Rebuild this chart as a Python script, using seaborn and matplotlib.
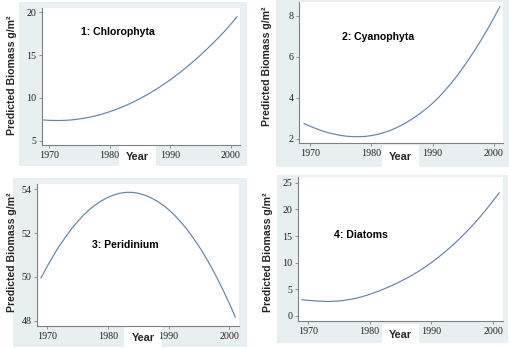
import matplotlib
matplotlib.use("Agg")
import matplotlib.pyplot as plt
from matplotlib.patches import Rectangle
import pandas as pd
import seaborn as sns

W, H = 510, 348

YEARS = list(range(1969, 2002))

CHLOROPHYTA = [7.45, 7.40, 7.38, 7.38, 7.41, 7.47, 7.56, 7.67, 7.81, 7.98, 8.18,
               8.40, 8.65, 8.93, 9.23, 9.56, 9.92, 10.31, 10.72, 11.16, 11.63,
               12.12, 12.64, 13.19, 13.77, 14.37, 15.00, 15.66, 16.34, 17.05,
               17.80, 18.60, 19.45]
CYANOPHYTA = [2.75, 2.62, 2.50, 2.39, 2.30, 2.23, 2.17, 2.13, 2.11, 2.11, 2.12,
              2.16, 2.22, 2.30, 2.40, 2.53, 2.68, 2.85, 3.04, 3.25, 3.48,
              3.74, 4.03, 4.35, 4.70, 5.08, 5.49, 5.92, 6.38, 6.86,
              7.37, 7.90, 8.46]
PERIDINIUM = [49.95, 50.47, 50.95, 51.40, 51.80, 52.18, 52.51, 52.81, 53.07, 53.29, 53.47,
              53.62, 53.73, 53.81, 53.85, 53.85, 53.81, 53.73, 53.62, 53.47, 53.29,
              53.07, 52.81, 52.51, 52.18, 51.80, 51.40, 50.95, 50.47, 49.95,
              49.39, 48.80, 48.17]
DIATOMS = [3.05, 2.94, 2.85, 2.78, 2.74, 2.75, 2.82, 2.95, 3.14, 3.39, 3.70,
           4.06, 4.47, 4.92, 5.41, 5.93, 6.49, 7.09, 7.74, 8.44, 9.20,
           10.02, 10.90, 11.84, 12.84, 13.90, 15.02, 16.20, 17.45, 18.77,
           20.17, 21.65, 23.15]

TITLES = ["1: Chlorophyta", "2: Cyanophyta", "3: Peridinium", "4: Diatoms"]
YTICKS = [[5, 10, 15, 20], [2, 4, 6, 8], [48, 50, 52, 54], [0, 5, 10, 15, 20, 25]]
XTICKS = [1970, 1980, 1990, 2000]

BG = "#e8eff1"
LINE = "#6383a8"
AXIS = "#808080"

# pixel layouts: background, axes, xlim, ylim, title pos, year box, ylabel pos
PANELS = [
    dict(bg=(19, 2, 247, 166), ax=(42, 8, 240, 145), xlim=(1968.85, 2001.5),
         ylim=(4.53, 20.47), title=(118, 32), year=(119, 146, 156, 166), ylab=(12, 75)),
    dict(bg=(276, 0, 510, 167), ax=(299, 2, 503, 143), xlim=(1968.2, 2001.5),
         ylim=(1.8, 8.68), title=(378, 37), year=(382, 145, 419, 167), ylab=(267, 66)),
    dict(bg=(13, 178, 247, 347), ax=(37, 184, 239, 326), xlim=(1968.35, 2001.6),
         ylim=(47.77, 54.23), title=(125, 245), year=(124, 327, 162, 347), ylab=(12, 252)),
    dict(bg=(277, 175, 508, 343), ax=(298, 177, 503, 321), xlim=(1968.4, 2001.6),
         ylim=(-0.94, 26.1), title=(361, 235), year=(382, 324, 419, 343), ylab=(268, 252)),
]
SERIES = [CHLOROPHYTA, CYANOPHYTA, PERIDINIUM, DIATOMS]


def rect(x0, y0, x1, y1):
    return [x0 / W, 1 - y1 / H, (x1 - x0) / W, (y1 - y0) / H]


sns.set_theme(style="ticks")
plt.rcParams["font.family"] = ["Liberation Sans", "DejaVu Sans"]

fig = plt.figure(figsize=(W / 100, H / 100), dpi=100)
fig.patch.set_facecolor("white")

for panel, values, title, yticks in zip(PANELS, SERIES, TITLES, YTICKS):
    bx = rect(*panel["bg"])
    fig.add_artist(Rectangle((bx[0], bx[1]), bx[2], bx[3], transform=fig.transFigure,
                             facecolor=BG, edgecolor="none", zorder=-2))
    yb = rect(*panel["year"])
    fig.add_artist(Rectangle((yb[0], yb[1]), yb[2], yb[3], transform=fig.transFigure,
                             facecolor="white", edgecolor="none", zorder=-1))

    ax = fig.add_axes(rect(*panel["ax"]))
    ax.set_facecolor("white")
    df = pd.DataFrame({"year": YEARS, "biomass": values})
    sns.lineplot(data=df, x="year", y="biomass", ax=ax, color=LINE, linewidth=0.85)
    ax.set_xlim(*panel["xlim"])
    ax.set_ylim(*panel["ylim"])
    ax.set_xticks(XTICKS)
    ax.set_yticks(yticks)
    ax.set_xlabel("")
    ax.set_ylabel("")
    for side in ["top", "right"]:
        ax.spines[side].set_visible(False)
    for side in ["left", "bottom"]:
        ax.spines[side].set_color(AXIS)
        ax.spines[side].set_linewidth(0.8)
    ax.tick_params(direction="out", length=2.5, width=0.6, color=AXIS,
                   labelsize=7.2, pad=1.5, labelcolor="#222222")
    for lab in ax.get_xticklabels() + ax.get_yticklabels():
        lab.set_family("Liberation Serif")

    tx, ty = panel["title"]
    fig.text(tx / W, 1 - ty / H, title, ha="center", va="center",
             fontsize=7.6, fontweight="bold", color="black")
    fig.text((panel["year"][0] + panel["year"][2]) / 2 / W,
             1 - (panel["year"][1] + panel["year"][3]) / 2 / H - 0.004, "Year",
             ha="center", va="center", fontsize=7.8, fontweight="bold", zorder=2)
    lx, ly = panel["ylab"]
    fig.text(lx / W, 1 - ly / H, "Predicted Biomass g/m²", rotation=90,
             ha="center", va="center", fontsize=7.6, fontweight="bold")

fig.savefig("out.png", dpi=100)
